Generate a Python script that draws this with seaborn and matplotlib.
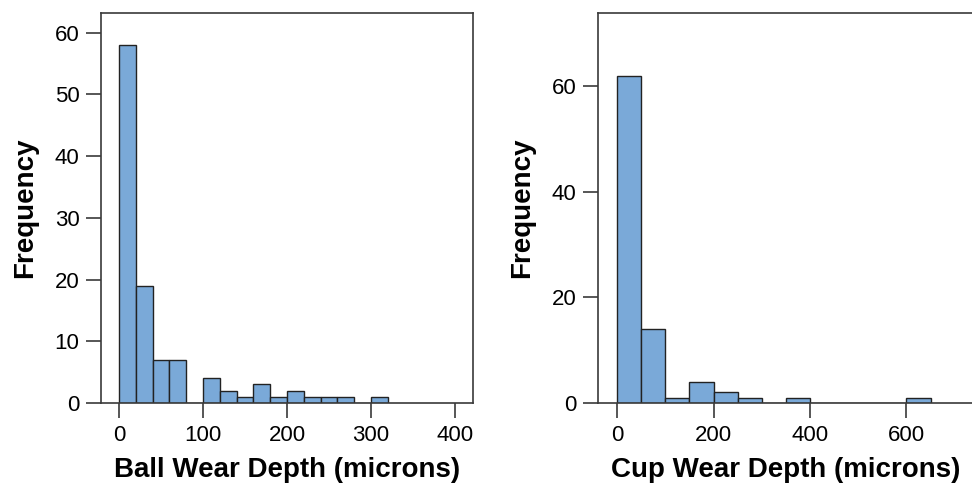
import numpy as np
import pandas as pd
import seaborn as sns
import matplotlib.pyplot as plt

# histogram counts
ball_edges = list(range(0, 340, 20))
ball_counts = [58, 19, 7, 7, 0, 4, 2, 1, 3, 1, 2, 1, 1, 1, 0, 1]

cup_edges = list(range(0, 700, 50))
cup_counts = [62, 14, 1, 4, 2, 1, 0, 1, 0, 0, 0, 0, 1]

bar_color = "#7aa9d8"

sns.set_style("white")
plt.rcParams["font.family"] = ["Liberation Sans", "DejaVu Sans"]
plt.rcParams["axes.edgecolor"] = "#3a3a3a"
plt.rcParams["axes.linewidth"] = 1.2
plt.rcParams["text.color"] = "black"
plt.rcParams["axes.labelcolor"] = "black"
plt.rcParams["xtick.labelcolor"] = "black"
plt.rcParams["ytick.labelcolor"] = "black"


def draw(ax, edges, counts, xlim, ylim, xticks, yticks, xlabel):
    e = np.array(edges, dtype=float)
    mids = (e[:-1] + e[1:]) / 2
    df = pd.DataFrame({"depth": mids, "n": counts})
    sns.histplot(data=df, x="depth", weights="n", bins=list(edges), ax=ax,
                 color=bar_color, alpha=1, edgecolor="#222222", linewidth=1.0)
    ax.set_xlim(*xlim)
    ax.set_ylim(*ylim)
    ax.set_xticks(xticks)
    ax.set_yticks(yticks)
    ax.tick_params(direction="out", length=10.5, width=1.2, color="#3a3a3a",
                   labelsize=16, pad=5, bottom=True, left=True)
    ax.set_xlabel(xlabel, fontsize=20, fontweight="bold", labelpad=8)
    ax.set_ylabel("Frequency", fontsize=20, fontweight="bold", labelpad=12)
    for s in ax.spines.values():
        s.set_visible(True)


fig = plt.figure(figsize=(9.72, 4.88), dpi=100)
ax1 = fig.add_axes([101 / 972, 1 - 403 / 488, 372 / 972, 390 / 488])
ax2 = fig.add_axes([598 / 972, 1 - 403 / 488, 376 / 972, 390 / 488])

draw(ax1, ball_edges, ball_counts, (-21.4, 421.4), (0, 63.2),
     [0, 100, 200, 300, 400], [0, 10, 20, 30, 40, 50, 60],
     "Ball Wear Depth (microns)")
draw(ax2, cup_edges, cup_counts, (-39.6, 740), (0, 73.9),
     [0, 200, 400, 600], [0, 20, 40, 60],
     "Cup Wear Depth (microns)")

fig.savefig("out.png", dpi=100)
